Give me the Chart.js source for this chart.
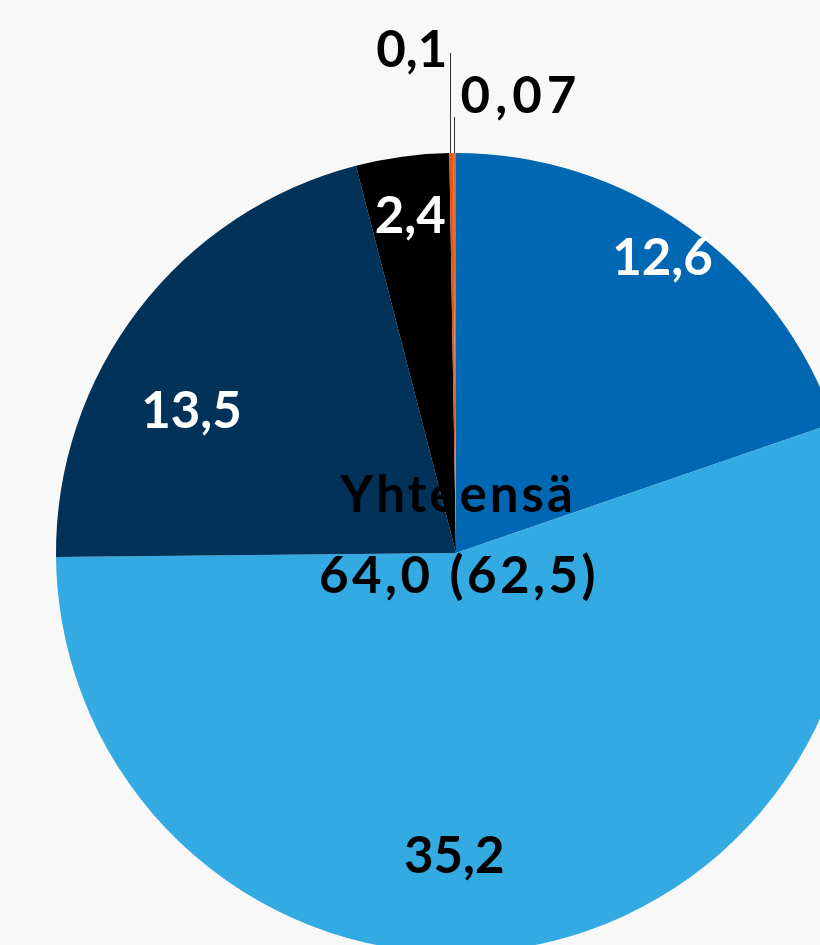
<!DOCTYPE html>
<html>
<head>
<meta charset="utf-8">
<script src="https://cdn.jsdelivr.net/npm/chart.js@4"></script>
<style>
  html, body { margin: 0; padding: 0; background: #f8f8f8; overflow: hidden; }
  #wrap { position: absolute; left: 0; top: 0; }
</style>
</head>
<body>
<div id="wrap"><canvas id="pie" width="912" height="1106"></canvas></div>
<script>
// data
const categories = ['A', 'B', 'C', 'D', 'E', 'F'];
const values = [12.6, 35.2, 13.5, 2.4, 0.1, 0.07];
const sliceColors = ['#0067b2', '#33aae1', '#00325a', '#000000', '#e2581a', '#ea6320'];
const totalTitle = 'Yhteensä';
const totalText = '64,0 (62,5)';

// label placement per slice (radius as fraction, angle shift in degrees)
const labelOpts = [
    { r: 0.90, shift: -0.5, color: '#ffffff' },
    { r: 0.76, shift: 10.1, color: '#000000' },
    { r: 0.75, shift: -9.3, color: '#ffffff' },
    { r: 0.85, shift: 0, color: '#ffffff' },
    { leader: 100, side: 'left', dy: 14, color: '#000000' },
    { leader: 36, side: 'right', dy: -4, color: '#000000', spacing: '5px' }
];

const FONT = 'bold 51px Lato, "Noto Sans", sans-serif';

function fmt(v) {
    return String(v).replace('.', ',');
}

const labelPlugin = {
    id: 'sliceLabels',
    afterDatasetsDraw(chart) {
        const ctx = chart.ctx;
        const meta = chart.getDatasetMeta(0);
        ctx.save();
        ctx.font = FONT;
        meta.data.forEach(function (arc, i) {
            const p = arc.getProps(['x', 'y', 'startAngle', 'endAngle', 'outerRadius'], true);
            const o = labelOpts[i];
            const text = fmt(values[i]);
            ctx.fillStyle = o.color;
            ctx.letterSpacing = o.spacing || '0px';
            if (o.leader) {
                const mid = (p.startAngle + p.endAngle) / 2;
                const lx = p.x + p.outerRadius * Math.cos(mid);
                const ly = p.y + p.outerRadius * Math.sin(mid);
                const top = ly - o.leader;
                ctx.strokeStyle = '#333333';
                ctx.lineWidth = 1;
                ctx.beginPath();
                ctx.moveTo(Math.round(lx) - 0.5, ly);
                ctx.lineTo(Math.round(lx) - 0.5, top);
                ctx.stroke();
                ctx.textBaseline = 'alphabetic';
                if (o.side === 'left') {
                    ctx.textAlign = 'right';
                    ctx.fillText(text, lx - 4, top + o.dy);
                } else {
                    ctx.textAlign = 'left';
                    ctx.fillText(text, lx + 6, top + o.dy);
                }
            } else {
                const mid = (p.startAngle + p.endAngle) / 2 + o.shift * Math.PI / 180;
                const r = p.outerRadius * o.r;
                ctx.textAlign = 'center';
                ctx.textBaseline = 'middle';
                ctx.fillText(text, p.x + r * Math.cos(mid), p.y + r * Math.sin(mid));
            }
        });
        // total in the middle
        const c = meta.data[0];
        ctx.fillStyle = '#000000';
        ctx.textAlign = 'center';
        ctx.textBaseline = 'alphabetic';
        ctx.letterSpacing = '3px';
        ctx.fillText(totalTitle, c.x + 2, c.y - 41);
        ctx.letterSpacing = '3.5px';
        ctx.fillText(totalText, c.x + 3, c.y + 40);
        ctx.restore();
    }
};

new Chart(document.getElementById('pie').getContext('2d'), {
    type: 'pie',
    data: {
        labels: categories,
        datasets: [{
            data: values,
            backgroundColor: sliceColors,
            borderWidth: 0
        }]
    },
    options: {
        responsive: false,
        animation: false,
        layout: { padding: { left: 56, right: 56, top: 153, bottom: 153 } },
        plugins: {
            legend: { display: false },
            tooltip: { enabled: false }
        }
    },
    plugins: [labelPlugin]
});
</script>
</body>
</html>
